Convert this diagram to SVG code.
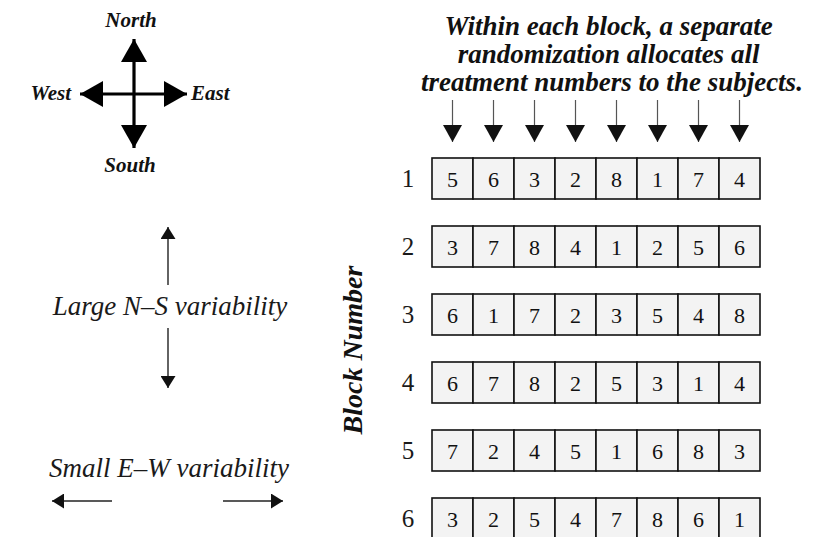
<svg xmlns="http://www.w3.org/2000/svg" width="824" height="537" viewBox="0 0 824 537">
<style>
.bi{font-family:"Liberation Serif","Times New Roman",serif;font-weight:bold;font-style:italic;fill:#111}
.it{font-family:"Liberation Serif","Times New Roman",serif;font-style:italic;font-size:27px;fill:#1a1a1a}
.rl{font-family:"Liberation Serif","Times New Roman",serif;font-size:25px;fill:#1a1a1a;text-anchor:middle}
.num{font-family:"Liberation Serif","Times New Roman",serif;font-size:22px;fill:#111;text-anchor:middle}
.cell{fill:#f3f3f3;stroke:#111;stroke-width:1.6}
.thin{stroke:#555;stroke-width:1.2;fill:none}
.var{stroke:#222;stroke-width:1.4;fill:none}
.comp{stroke:#000;stroke-width:3.2;fill:none}
</style>
<defs>
<marker id="colHead" markerUnits="userSpaceOnUse" markerWidth="17" markerHeight="19" viewBox="0 0 17 19" refX="17" refY="9.5" orient="auto"><path d="M0,0 L17,9.5 L0,19 z" fill="#111"/></marker>
<marker id="varHead" markerUnits="userSpaceOnUse" markerWidth="12" markerHeight="15" viewBox="0 0 12 15" refX="12" refY="7.5" orient="auto-start-reverse"><path d="M0,0 L12,7.5 L0,15 z" fill="#111"/></marker>
<marker id="compHead" markerUnits="userSpaceOnUse" markerWidth="23" markerHeight="26" viewBox="0 0 23 26" refX="23" refY="13" orient="auto-start-reverse"><path d="M0,0 L23,13 L0,26 z" fill="#000"/></marker>
</defs>
<rect width="824" height="537" fill="#fff"/>

<g id="compass">
<text class="bi" font-size="21" x="131" y="27" text-anchor="middle">North</text>
<text class="bi" font-size="21" x="130" y="172" text-anchor="middle">South</text>
<text class="bi" font-size="21" x="71" y="100" text-anchor="end">West</text>
<text class="bi" font-size="21" x="191" y="100">East</text>
</g>

<g id="label-ns"><text class="it" x="170" y="315" text-anchor="middle">Large N–S variability</text></g>
<g id="label-ew"><text class="it" x="169" y="477" text-anchor="middle">Small E–W variability</text></g>

<g id="caption"><text class="bi" font-size="27" text-anchor="middle">
<tspan x="612" y="35">Within each block, a separate</tspan>
<tspan x="612" y="63">randomization allocates all</tspan>
<tspan x="612" y="91">treatment numbers to the subjects.</tspan></text></g>

<g id="block-number-label"><text class="bi" font-size="28" transform="translate(362,350) rotate(-90)" text-anchor="middle">Block Number</text></g>

<g id="connectors">
<line class="comp" x1="134" y1="39" x2="134" y2="148" marker-start="url(#compHead)" marker-end="url(#compHead)"/>
<line class="comp" x1="80" y1="94" x2="187" y2="94" marker-start="url(#compHead)" marker-end="url(#compHead)"/>
<line class="var" x1="168" y1="285" x2="168" y2="227" marker-end="url(#varHead)"/>
<line class="var" x1="168" y1="328" x2="168" y2="388" marker-end="url(#varHead)"/>
<line class="var" x1="112" y1="501" x2="52" y2="501" marker-end="url(#varHead)"/>
<line class="var" x1="223" y1="501" x2="283" y2="501" marker-end="url(#varHead)"/>
<line class="thin" x1="452.5" y1="100" x2="452.5" y2="142" marker-end="url(#colHead)"/>
<line class="thin" x1="493.5" y1="100" x2="493.5" y2="142" marker-end="url(#colHead)"/>
<line class="thin" x1="534.5" y1="100" x2="534.5" y2="142" marker-end="url(#colHead)"/>
<line class="thin" x1="575.5" y1="100" x2="575.5" y2="142" marker-end="url(#colHead)"/>
<line class="thin" x1="616.5" y1="100" x2="616.5" y2="142" marker-end="url(#colHead)"/>
<line class="thin" x1="657.5" y1="100" x2="657.5" y2="142" marker-end="url(#colHead)"/>
<line class="thin" x1="698.5" y1="100" x2="698.5" y2="142" marker-end="url(#colHead)"/>
<line class="thin" x1="739.5" y1="100" x2="739.5" y2="142" marker-end="url(#colHead)"/>
</g>

<g id="block-1" transform="translate(0,158)">
<text class="rl" x="408" y="29">1</text>
<rect class="cell" x="432" y="0" width="41" height="41"/><rect class="cell" x="473" y="0" width="41" height="41"/><rect class="cell" x="514" y="0" width="41" height="41"/><rect class="cell" x="555" y="0" width="41" height="41"/><rect class="cell" x="596" y="0" width="41" height="41"/><rect class="cell" x="637" y="0" width="41" height="41"/><rect class="cell" x="678" y="0" width="41" height="41"/><rect class="cell" x="719" y="0" width="41" height="41"/>
<text class="num" y="29"><tspan x="452.5">5</tspan><tspan x="493.5">6</tspan><tspan x="534.5">3</tspan><tspan x="575.5">2</tspan><tspan x="616.5">8</tspan><tspan x="657.5">1</tspan><tspan x="698.5">7</tspan><tspan x="739.5">4</tspan></text>
</g>
<g id="block-2" transform="translate(0,226)">
<text class="rl" x="408" y="29">2</text>
<rect class="cell" x="432" y="0" width="41" height="41"/><rect class="cell" x="473" y="0" width="41" height="41"/><rect class="cell" x="514" y="0" width="41" height="41"/><rect class="cell" x="555" y="0" width="41" height="41"/><rect class="cell" x="596" y="0" width="41" height="41"/><rect class="cell" x="637" y="0" width="41" height="41"/><rect class="cell" x="678" y="0" width="41" height="41"/><rect class="cell" x="719" y="0" width="41" height="41"/>
<text class="num" y="29"><tspan x="452.5">3</tspan><tspan x="493.5">7</tspan><tspan x="534.5">8</tspan><tspan x="575.5">4</tspan><tspan x="616.5">1</tspan><tspan x="657.5">2</tspan><tspan x="698.5">5</tspan><tspan x="739.5">6</tspan></text>
</g>
<g id="block-3" transform="translate(0,294)">
<text class="rl" x="408" y="29">3</text>
<rect class="cell" x="432" y="0" width="41" height="41"/><rect class="cell" x="473" y="0" width="41" height="41"/><rect class="cell" x="514" y="0" width="41" height="41"/><rect class="cell" x="555" y="0" width="41" height="41"/><rect class="cell" x="596" y="0" width="41" height="41"/><rect class="cell" x="637" y="0" width="41" height="41"/><rect class="cell" x="678" y="0" width="41" height="41"/><rect class="cell" x="719" y="0" width="41" height="41"/>
<text class="num" y="29"><tspan x="452.5">6</tspan><tspan x="493.5">1</tspan><tspan x="534.5">7</tspan><tspan x="575.5">2</tspan><tspan x="616.5">3</tspan><tspan x="657.5">5</tspan><tspan x="698.5">4</tspan><tspan x="739.5">8</tspan></text>
</g>
<g id="block-4" transform="translate(0,362)">
<text class="rl" x="408" y="29">4</text>
<rect class="cell" x="432" y="0" width="41" height="41"/><rect class="cell" x="473" y="0" width="41" height="41"/><rect class="cell" x="514" y="0" width="41" height="41"/><rect class="cell" x="555" y="0" width="41" height="41"/><rect class="cell" x="596" y="0" width="41" height="41"/><rect class="cell" x="637" y="0" width="41" height="41"/><rect class="cell" x="678" y="0" width="41" height="41"/><rect class="cell" x="719" y="0" width="41" height="41"/>
<text class="num" y="29"><tspan x="452.5">6</tspan><tspan x="493.5">7</tspan><tspan x="534.5">8</tspan><tspan x="575.5">2</tspan><tspan x="616.5">5</tspan><tspan x="657.5">3</tspan><tspan x="698.5">1</tspan><tspan x="739.5">4</tspan></text>
</g>
<g id="block-5" transform="translate(0,430)">
<text class="rl" x="408" y="29">5</text>
<rect class="cell" x="432" y="0" width="41" height="41"/><rect class="cell" x="473" y="0" width="41" height="41"/><rect class="cell" x="514" y="0" width="41" height="41"/><rect class="cell" x="555" y="0" width="41" height="41"/><rect class="cell" x="596" y="0" width="41" height="41"/><rect class="cell" x="637" y="0" width="41" height="41"/><rect class="cell" x="678" y="0" width="41" height="41"/><rect class="cell" x="719" y="0" width="41" height="41"/>
<text class="num" y="29"><tspan x="452.5">7</tspan><tspan x="493.5">2</tspan><tspan x="534.5">4</tspan><tspan x="575.5">5</tspan><tspan x="616.5">1</tspan><tspan x="657.5">6</tspan><tspan x="698.5">8</tspan><tspan x="739.5">3</tspan></text>
</g>
<g id="block-6" transform="translate(0,498)">
<text class="rl" x="408" y="29">6</text>
<rect class="cell" x="432" y="0" width="41" height="41"/><rect class="cell" x="473" y="0" width="41" height="41"/><rect class="cell" x="514" y="0" width="41" height="41"/><rect class="cell" x="555" y="0" width="41" height="41"/><rect class="cell" x="596" y="0" width="41" height="41"/><rect class="cell" x="637" y="0" width="41" height="41"/><rect class="cell" x="678" y="0" width="41" height="41"/><rect class="cell" x="719" y="0" width="41" height="41"/>
<text class="num" y="29"><tspan x="452.5">3</tspan><tspan x="493.5">2</tspan><tspan x="534.5">5</tspan><tspan x="575.5">4</tspan><tspan x="616.5">7</tspan><tspan x="657.5">8</tspan><tspan x="698.5">6</tspan><tspan x="739.5">1</tspan></text>
</g>
</svg>
